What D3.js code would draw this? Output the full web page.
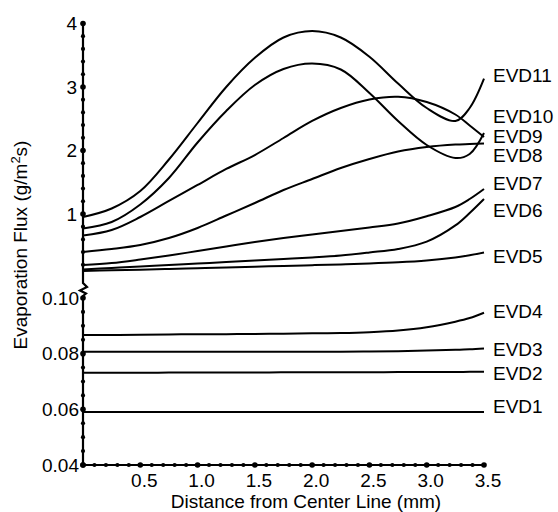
<!DOCTYPE html>
<html><head><meta charset="utf-8">
<script src="https://cdn.jsdelivr.net/npm/d3@7"></script>
<style>
html,body{margin:0;padding:0;background:#fff;}
svg text{font-family:"Liberation Sans",Arial,Helvetica,sans-serif;fill:#000;}
</style></head>
<body><svg id="c" width="558" height="512"></svg>
<script>
// ---- data ----
const xs = [0,0.25,0.5,0.75,1,1.25,1.5,1.75,2,2.25,2.5,2.75,3,3.25,3.375,3.5];
const seriesNames = ["EVD1","EVD2","EVD3","EVD4","EVD5","EVD6","EVD7","EVD8","EVD9","EVD10","EVD11"];
const evd1 = [0.0590,0.0590,0.0590,0.0590,0.0590,0.0590,0.0590,0.0590,0.0590,0.0590,0.0590,0.0590,0.0590,0.0590,0.0590,0.0590];
const evd2 = [0.0731,0.0731,0.0731,0.0732,0.0732,0.0732,0.0732,0.0733,0.0733,0.0733,0.0733,0.0734,0.0734,0.0734,0.0735,0.0735];
const evd3 = [0.0807,0.0807,0.0807,0.0807,0.0807,0.0807,0.0807,0.0807,0.0807,0.0807,0.0808,0.0809,0.0811,0.0814,0.0816,0.0819];
const evd4 = [0.0867,0.0867,0.0868,0.0869,0.0870,0.0870,0.0871,0.0872,0.0873,0.0874,0.0877,0.0883,0.0895,0.0915,0.0928,0.0947];
const evd5 = [0.102,0.113,0.123,0.134,0.145,0.157,0.170,0.181,0.194,0.206,0.220,0.239,0.268,0.315,0.350,0.394];
const evd6 = [0.126,0.150,0.173,0.197,0.220,0.244,0.268,0.291,0.315,0.346,0.394,0.449,0.565,0.820,1.016,1.236];
const evd7 = [0.197,0.228,0.283,0.346,0.417,0.488,0.559,0.622,0.677,0.732,0.787,0.850,0.965,1.110,1.236,1.394];
const evd8 = [0.402,0.449,0.512,0.622,0.780,0.976,1.173,1.378,1.551,1.724,1.866,1.984,2.055,2.094,2.102,2.110];
const evd9 = [0.661,0.748,0.953,1.205,1.457,1.709,1.929,2.197,2.465,2.669,2.803,2.847,2.764,2.567,2.394,2.213];
const evd10 = [0.772,0.874,1.150,1.567,2.126,2.622,3.031,3.283,3.370,3.276,2.906,2.465,2.087,1.882,1.945,2.276];
const evd11 = [0.953,1.087,1.362,1.858,2.433,3.000,3.460,3.780,3.882,3.780,3.477,3.055,2.669,2.465,2.669,3.130];
const xTickLabels = ["0.5","1.0","1.5","2.0","2.5","3.0","3.5"];
const yUpperTickLabels = ["1","2","3","4"];
const yLowerTickLabels = ["0.04","0.06","0.08","0.10"];
const xTitle = "Distance from Center Line (mm)";

// ---- drawing ----
const svg = d3.select("#c");
const x = d3.scaleLinear().domain([0,3.5]).range([83,484]);
const yUp = d3.scaleLinear().domain([0,4]).range([277.5,23.5]);
const yLo = d3.scaleLinear().domain([0.04,0.10]).range([465,298]);

const allSeries = [evd1,evd2,evd3,evd4,evd5,evd6,evd7,evd8,evd9,evd10,evd11];
const labelNudge = [1.3,8.3,7.7,5.6,10.8,17.7,1,18.2,5.7,-10.3,3.7];

const x0 = x(0);
const brkTop = 283, brkBot = 296;
svg.append("path")
  .attr("d", `M${x0},${yUp(4)-2} L${x0},${brkTop} L${x0+4},${brkTop+4} L${x0-3},${brkTop+7.5} L${x0+3},${brkTop+10.5} L${x0},${brkBot} L${x0},${yLo(0.04)} L${x(3.5)},${yLo(0.04)}`)
  .attr("fill","none").attr("stroke","#000").attr("stroke-width",2.2).attr("stroke-linejoin","miter");

const dotG = svg.append("g").attr("fill","#000");
d3.range(1,21).forEach(i=>{
  const v=i*0.2; const major = Math.abs(v-Math.round(v))<1e-6;
  dotG.append("circle").attr("cx",x0).attr("cy",yUp(v)).attr("r",major?2.8:2.1);
});
d3.range(0,13).forEach(i=>{
  const v=0.04+i*0.005; const major = i%4===0;
  dotG.append("circle").attr("cx",x0).attr("cy",yLo(v)).attr("r",major?2.8:2.1);
});
d3.range(0,36).forEach(i=>{
  const v=i*0.1; const major = i%5===0;
  dotG.append("circle").attr("cx",x(v)).attr("cy",yLo(0.04)).attr("r",major?2.8:2.1);
});

const fs = 19;
xTickLabels.forEach(t=>{
  svg.append("text").attr("x",x(+t)+4).attr("y",yLo(0.04)+22).attr("text-anchor","middle")
    .attr("font-size",fs).text(t);
});
yUpperTickLabels.forEach(t=>{
  svg.append("text").attr("x",x0-6).attr("y",yUp(+t)+6.8).attr("text-anchor","end")
    .attr("font-size",fs).text(t);
});
yLowerTickLabels.forEach(t=>{
  svg.append("text").attr("x",x0-4).attr("y",yLo(+t)+6.8).attr("text-anchor","end")
    .attr("font-size",fs).text(t);
});

svg.append("text").attr("x",306).attr("y",508).attr("text-anchor","middle").attr("font-size",fs).text(xTitle);
const yt = svg.append("text").attr("transform","translate(27,245) rotate(-90)").attr("text-anchor","middle").attr("font-size",fs);
yt.append("tspan").text("Evaporation Flux (g/m");
yt.append("tspan").attr("font-size",13).attr("dy",-7).text("2");
yt.append("tspan").attr("dy",7).text("s)");

const lineG = svg.append("g").attr("fill","none").attr("stroke","#000").attr("stroke-width",2);
allSeries.forEach((vals,i)=>{
  const ys = i<4 ? yLo : yUp;
  const line = d3.line().x((d,j)=>x(xs[j])).y(d=>ys(d)).curve(d3.curveCatmullRom.alpha(0.5));
  lineG.append("path").attr("d", line(vals));
  svg.append("text").attr("x", x(3.5)+9).attr("y", ys(vals[vals.length-1]) + labelNudge[i])
    .attr("font-size",fs).text(seriesNames[i]);
});
</script></body></html>
